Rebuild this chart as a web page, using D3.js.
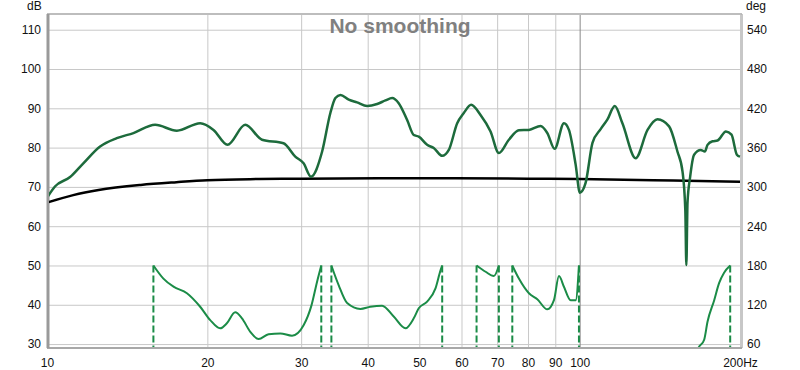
<!DOCTYPE html>
<html>
<head>
<meta charset="utf-8">
<script src="https://cdn.jsdelivr.net/npm/d3@7"></script>
<style>
  body { margin: 0; background: #fff; }
  text { font-family: Arial, "Liberation Sans", sans-serif; }
</style>
</head>
<body>
<div id="chart"></div>
<script>
// Magnitude response, [frequency Hz, dB]
var splData = [
  [10.0, 67.2], [10.35, 70.1], [11.05, 72.5], [11.7, 76], [12.58, 80.3],
  [13.52, 82.4], [14.53, 83.7], [15.96, 85.8], [17.53, 84.3], [19.39, 86.2],
  [20.54, 84.5], [21.82, 80.7], [23.56, 85.8], [25.33, 82], [27.8, 81.1],
  [29.25, 77.7], [30.32, 76], [31.3, 72.6], [32.85, 79], [34.04, 88.8],
  [34.79, 92.6], [35.55, 93.4], [36.86, 92.2], [38.2, 91.5], [39.9, 90.6],
  [41.67, 91.1], [43.19, 92], [44.46, 92.6], [45.74, 91.3], [47.44, 87],
  [48.81, 83.2], [49.88, 82.8], [51.72, 80.7], [53.22, 79.9], [55.2, 77.9],
  [56.8, 79.4], [58.9, 86.2], [60.6, 88.8], [62.56, 90.9], [65.15, 88.3],
  [68.03, 84.1], [70.52, 78.6], [73.64, 82], [76.9, 84.4], [80.31, 84.5],
  [84.48, 85.5], [86.96, 83.7], [89.75, 79.7], [93.43, 86.2], [95.47, 84.5],
  [98.3, 75.6], [100.1, 68.5], [102.6, 71], [105.7, 81.2], [109.5, 84.7],
  [112.7, 87.1], [116.4, 90.6], [120.3, 86.2], [127.4, 77.3], [134.1, 84.5],
  [140, 87.2], [147.2, 85.4], [152.6, 79], [156, 73.9], [157.9, 64],
  [158.6, 50.1], [159.4, 66], [161.2, 72.5], [164, 78.2], [168.8, 79.4],
  [171.8, 79], [173.8, 80.7], [177.6, 81.6], [181.5, 81.8], [188.2, 84.1],
  [192.8, 83.3], [197.3, 78.2], [200, 77.7]
];

// Black reference curve, [frequency Hz, dB]
var targetData = [
  [10, 66.0], [11.2, 67.9], [12.5, 69.2], [15, 70.5], [17.5, 71.2],
  [20, 71.7], [25, 72.0], [30, 72.1], [50, 72.2], [80, 72.1],
  [100, 72.0], [150, 71.6], [200, 71.3]
];

// Phase, one array per visible stretch between wraps, [frequency Hz, deg]
var phaseSegments = [
  [[15.84, 180], [16.54, 160], [17.28, 147.6], [18.31, 137.6], [19.39, 117],
   [20.25, 96.6], [21.14, 84], [21.76, 91.7], [22.56, 108.5], [23.23, 99.3],
   [24.08, 78.7], [24.96, 67.7], [26.06, 75], [27.42, 76.3], [28.84, 72.8],
   [30.32, 88.8], [31.38, 119.5], [32.14, 155.3], [32.73, 180]],
  [[34.19, 180], [35.28, 150], [36.6, 122.6], [38.76, 113.6], [40.46, 117],
   [42.57, 118.7], [44.76, 102], [47.1, 84], [48.81, 99.3], [49.88, 114.6],
   [51.72, 124.8], [53.62, 145], [54.8, 172.6], [55.2, 180]],
  [[64.04, 180], [66.58, 170.4], [69.02, 163.8], [70.52, 180]],
  [[74.74, 180], [76.9, 160], [80.31, 137.6], [83.27, 128.4], [86.96, 113],
   [89.48, 127], [91.44, 163.8], [93.43, 147.6], [96.18, 127], [98.3, 127],
   [99.7, 180]],
  [[165.5, 40], [166.7, 52], [171.3, 66.6], [173.8, 94], [178.9, 127],
   [182.7, 153], [186.7, 169], [191.7, 180]]
];

var dbTicks = [30, 40, 50, 60, 70, 80, 90, 100, 110];
var degTicks = [60, 120, 180, 240, 300, 360, 420, 480, 540];
var freqTicks = [10, 20, 30, 40, 50, 60, 70, 80, 90, 100, 200];

var divWidth = 800,
    divHeight = 370,
    margin = {left: 47, right: 740, top: 14, bottom: 348};

var svg = d3.select("#chart")
  .append("svg")
  .attr("width", divWidth)
  .attr("height", divHeight);

var xScale = d3.scaleLog().domain([10, 200]).range([margin.left, margin.right]);
var yScale = d3.scaleLinear().domain([29, 114]).range([margin.bottom, margin.top]);
// phase axis lines up with dB axis: 30 dB <-> 60 deg, 10 dB per 60 deg
var yDeg = d3.scaleLinear().domain([54, 564]).range([margin.bottom, margin.top]);

var plotW = margin.right - margin.left,
    plotH = margin.bottom - margin.top;

// Horizontal grid + left labels
var yAxis = svg.append("g")
  .attr("class", "y-axis")
  .attr("transform", `translate(${margin.left},0)`)
  .call(d3.axisLeft(yScale).tickValues(dbTicks).tickSize(-plotW).tickPadding(6));
yAxis.select(".domain").remove();
yAxis.selectAll("line").attr("stroke", "#c8c8c8");
yAxis.selectAll("text").attr("font-size", 12).attr("fill", "#111");

// Vertical grid + bottom labels
var xAxis = svg.append("g")
  .attr("class", "x-axis")
  .attr("transform", `translate(0,${margin.bottom})`)
  .call(d3.axisBottom(xScale).tickValues(freqTicks)
    .tickSize(-plotH)
    .tickPadding(10)
    .tickFormat(d => d === 200 ? "200Hz" : d));
xAxis.select(".domain").remove();
xAxis.selectAll("line").attr("stroke", d => d === 100 ? "#8a8a8a" : "#c8c8c8");
xAxis.selectAll("text")
  .attr("y", 10)
  .attr("font-size", 12).attr("fill", "#111");

// Right phase labels
var degAxis = svg.append("g")
  .attr("class", "deg-axis")
  .attr("transform", `translate(${margin.right + 2},0)`)
  .call(d3.axisRight(yDeg).tickValues(degTicks).tickSize(0).tickPadding(5));
degAxis.select(".domain").remove();
degAxis.selectAll("text").attr("font-size", 12).attr("fill", "#111");

// Unit labels
svg.append("text").attr("x", 27).attr("y", 10).attr("font-size", 12).attr("fill", "#111").text("dB");
svg.append("text").attr("x", 746).attr("y", 10).attr("font-size", 12).attr("fill", "#111").text("deg");

// Plot frame
svg.append("line").attr("x1", margin.left).attr("x2", margin.right + 2)
  .attr("y1", margin.top).attr("y2", margin.top)
  .attr("stroke", "#bdbdbd").attr("stroke-width", 2);
svg.append("line").attr("x1", margin.right + 2).attr("x2", margin.right + 2)
  .attr("y1", margin.top).attr("y2", margin.bottom)
  .attr("stroke", "#b5b5b5").attr("stroke-width", 1.5);
svg.append("line").attr("x1", margin.left).attr("x2", margin.right + 2)
  .attr("y1", margin.bottom).attr("y2", margin.bottom)
  .attr("stroke", "#a8a8a8").attr("stroke-width", 2);
svg.append("line").attr("x1", margin.left + 1).attr("x2", margin.left + 1)
  .attr("y1", margin.top).attr("y2", margin.bottom)
  .attr("stroke", "#9a9a9a").attr("stroke-width", 3);

// Title
svg.append("text")
  .attr("x", 400).attr("y", 33)
  .attr("text-anchor", "middle")
  .attr("font-size", 21).attr("font-weight", "bold")
  .attr("fill", "#808080")
  .text("No smoothing");

svg.append("clipPath").attr("id", "plot-clip")
  .append("rect")
  .attr("x", margin.left + 2).attr("y", margin.top)
  .attr("width", plotW - 1).attr("height", plotH - 1);

var plot = svg.append("g").attr("clip-path", "url(#plot-clip)");

var splLine = d3.line()
  .x(d => xScale(d[0]))
  .y(d => yScale(d[1]))
  .curve(d3.curveMonotoneX);

var phaseLine = d3.line()
  .x(d => xScale(d[0]))
  .y(d => yDeg(d[1]))
  .curve(d3.curveMonotoneX);

// Phase wraps drawn as dashed drops to the bottom
var wraps = [];
phaseSegments.forEach(function (seg) {
  if (seg[0][1] === 180) wraps.push(seg[0][0]);
  if (seg[seg.length - 1][1] === 180) wraps.push(seg[seg.length - 1][0]);
});

plot.selectAll("line.wrap")
  .data(wraps)
  .join("line")
    .attr("class", "wrap")
    .attr("x1", d => xScale(d)).attr("x2", d => xScale(d))
    .attr("y1", yDeg(180)).attr("y2", margin.bottom)
    .attr("stroke", "#1b8c47").attr("stroke-width", 2)
    .attr("stroke-dasharray", "7,3");

plot.selectAll("path.phase")
  .data(phaseSegments)
  .join("path")
    .attr("class", "phase")
    .attr("d", phaseLine)
    .attr("fill", "none")
    .attr("stroke", "#1b8c47")
    .attr("stroke-width", 2);

plot.append("path")
  .datum(targetData)
  .attr("d", splLine)
  .attr("fill", "none")
  .attr("stroke", "#000")
  .attr("stroke-width", 2.5);

plot.append("path")
  .datum(splData)
  .attr("d", splLine)
  .attr("fill", "none")
  .attr("stroke", "#1d6b3c")
  .attr("stroke-width", 2.5)
  .attr("stroke-linejoin", "round");
</script>
</body>
</html>
